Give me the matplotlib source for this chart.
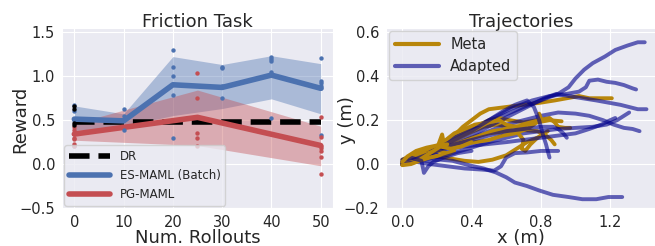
import numpy as np
import seaborn as sns
from matplotlib import pyplot as plt

# ---- left panel: friction task ----
es_x = [0, 10, 20, 30, 40, 50]
es_mean = [0.51, 0.49, 0.90, 0.87, 1.01, 0.86]
es_lo = [0.38, 0.43, 0.55, 0.63, 0.74, 0.57]
es_hi = [0.66, 0.57, 1.22, 1.13, 1.23, 1.14]
es_pts = {
    0: [0.67, 0.60, 0.51, 0.50, 0.21],
    10: [0.62, 0.55, 0.39],
    20: [1.29, 1.10, 1.00, 0.78, 0.30],
    30: [1.10, 1.09, 0.89, 0.75],
    40: [1.22, 1.19, 1.17, 1.04, 1.02, 0.52],
    50: [1.20, 0.94, 0.92, 0.89, 0.86, 0.33],
}

pg_x = [0, 25, 50]
pg_mean = [0.34, 0.53, 0.21]
pg_lo = [0.27, 0.21, -0.02]
pg_hi = [0.46, 0.84, 0.43]
pg_pts = {
    0: [0.42, 0.39, 0.34, 0.30, 0.28, 0.23, 0.21],
    25: [1.03, 0.75, 0.35, 0.30, 0.21],
    50: [0.53, 0.31, 0.21, 0.18, 0.15, 0.08, -0.11],
}

dr_x = [0, 50]
dr_val = 0.48
dr_pts = [0.66, 0.63, 0.47, 0.44]

# ---- right panel: trajectories (x, y in m) ----
meta_trajs = [
    [(0, 0), (0.04, 0.02), (0.1, 0.045), (0.18, 0.07), (0.25, 0.1), (0.3, 0.13), (0.35, 0.17),
     (0.4, 0.2), (0.45, 0.23), (0.5, 0.25), (0.6, 0.26), (0.7, 0.27), (0.8, 0.28), (0.88, 0.29),
     (0.95, 0.3), (1.02, 0.31), (1.08, 0.3), (1.15, 0.3), (1.21, 0.3)],
    [(0, 0.01), (0.1, 0.05), (0.2, 0.08), (0.3, 0.12), (0.4, 0.16), (0.5, 0.2), (0.56, 0.21),
     (0.62, 0.2), (0.7, 0.19), (0.78, 0.2), (0.85, 0.21), (0.88, 0.19), (0.9, 0.17),
     (0.94, 0.165), (0.97, 0.165)],
    [(0, 0), (0.08, 0.03), (0.18, 0.06), (0.28, 0.1), (0.38, 0.14), (0.47, 0.17), (0.55, 0.18),
     (0.62, 0.17), (0.7, 0.175), (0.78, 0.19), (0.85, 0.2), (0.92, 0.195)],
    [(0, 0.005), (0.1, 0.035), (0.2, 0.065), (0.3, 0.09), (0.4, 0.12), (0.5, 0.14), (0.6, 0.15),
     (0.7, 0.155), (0.78, 0.15), (0.83, 0.13), (0.86, 0.11), (0.88, 0.09)],
    [(0, 0), (0.06, 0.02), (0.12, 0.03), (0.2, 0.035), (0.28, 0.025), (0.36, 0.015), (0.44, 0.01),
     (0.52, 0.02), (0.6, 0.04), (0.66, 0.07), (0.72, 0.1), (0.78, 0.12), (0.84, 0.15)],
    [(0, 0), (0.07, 0.03), (0.14, 0.05), (0.2, 0.07), (0.23, 0.135), (0.245, 0.075), (0.3, 0.09),
     (0.38, 0.11), (0.45, 0.13), (0.52, 0.15), (0.6, 0.16), (0.66, 0.15), (0.7, 0.11),
     (0.69, 0.07), (0.71, 0.06), (0.74, 0.09), (0.78, 0.12)],
    [(0, 0.02), (0.08, 0.05), (0.16, 0.07), (0.26, 0.08), (0.34, 0.09), (0.42, 0.1), (0.5, 0.11),
     (0.58, 0.13), (0.65, 0.14), (0.72, 0.16), (0.76, 0.18), (0.8, 0.21), (0.79, 0.23)],
    [(0, 0), (0.06, 0.025), (0.14, 0.06), (0.22, 0.09), (0.3, 0.14), (0.36, 0.16), (0.42, 0.18),
     (0.5, 0.19), (0.56, 0.2), (0.6, 0.18), (0.65, 0.17), (0.72, 0.16)],
    [(0, 0), (0.05, 0.02), (0.1, 0.04), (0.15, 0.05), (0.2, 0.06), (0.26, 0.05), (0.3, 0.06)],
    [(0, 0), (0.04, 0.005), (0.1, 0.02), (0.16, 0.05), (0.22, 0.08), (0.28, 0.07), (0.34, 0.08),
     (0.4, 0.1)],
    [(0, -0.005), (0.05, 0.0), (0.1, 0.015), (0.16, 0.03), (0.22, 0.04), (0.28, 0.05)],
    [(0, 0.01), (0.03, 0.035), (0.08, 0.06), (0.14, 0.075), (0.2, 0.085), (0.26, 0.09)],
]

adapted_trajs = [
    [(0, 0), (0.08, 0.03), (0.2, 0.07), (0.32, 0.12), (0.45, 0.17), (0.58, 0.22), (0.7, 0.26),
     (0.8, 0.29), (0.9, 0.32), (0.96, 0.35), (1.0, 0.39), (1.05, 0.43), (1.1, 0.46), (1.17, 0.49),
     (1.23, 0.52), (1.3, 0.54), (1.36, 0.555), (1.4, 0.555)],
    [(0, 0.01), (0.1, 0.04), (0.22, 0.09), (0.35, 0.14), (0.5, 0.2), (0.62, 0.25), (0.75, 0.29),
     (0.85, 0.31), (0.95, 0.32), (1.02, 0.33), (1.06, 0.35), (1.08, 0.38), (1.13, 0.385),
     (1.18, 0.375), (1.23, 0.37), (1.28, 0.36), (1.33, 0.345), (1.35, 0.34)],
    [(0, 0), (0.12, 0.03), (0.25, 0.07), (0.4, 0.13), (0.52, 0.18), (0.62, 0.22), (0.72, 0.26),
     (0.82, 0.3), (0.89, 0.32), (0.96, 0.31), (1.04, 0.3), (1.12, 0.29), (1.19, 0.28),
     (1.26, 0.27), (1.31, 0.26), (1.36, 0.25), (1.41, 0.25)],
    [(0, 0), (0.1, 0.03), (0.2, 0.06), (0.3, 0.09), (0.4, 0.12), (0.5, 0.15), (0.6, 0.18),
     (0.7, 0.2), (0.8, 0.22), (0.9, 0.235), (1.0, 0.23), (1.08, 0.22), (1.16, 0.2), (1.22, 0.18),
     (1.28, 0.165), (1.33, 0.16), (1.37, 0.15)],
    [(0, 0), (0.12, 0.02), (0.25, 0.04), (0.38, 0.07), (0.5, 0.1), (0.6, 0.12), (0.7, 0.14),
     (0.8, 0.15), (0.9, 0.16), (1.0, 0.165), (1.1, 0.17), (1.18, 0.18), (1.24, 0.2),
     (1.28, 0.22), (1.31, 0.235)],
    [(0, 0.01), (0.1, 0.03), (0.22, 0.06), (0.35, 0.08), (0.48, 0.09), (0.6, 0.1), (0.7, 0.11),
     (0.8, 0.12), (0.9, 0.13), (1.0, 0.14), (1.08, 0.16), (1.15, 0.18), (1.2, 0.2), (1.23, 0.21)],
    [(0, 0), (0.06, 0.02), (0.15, 0.015), (0.22, 0.02), (0.29, 0.015), (0.4, -0.008),
     (0.47, -0.02), (0.54, -0.038), (0.6, -0.06), (0.65, -0.084), (0.72, -0.1), (0.79, -0.12),
     (0.87, -0.14), (0.96, -0.15), (1.04, -0.16), (1.12, -0.16), (1.19, -0.15), (1.27, -0.15)],
    [(0, 0), (0.1, 0.03), (0.2, 0.07), (0.3, 0.11), (0.4, 0.15), (0.5, 0.2), (0.58, 0.24),
     (0.65, 0.27), (0.72, 0.29), (0.76, 0.26), (0.79, 0.2), (0.81, 0.14), (0.83, 0.09),
     (0.85, 0.03)],
    [(0, 0), (0.1, 0.03), (0.2, 0.06), (0.3, 0.09), (0.4, 0.11), (0.5, 0.13), (0.6, 0.15),
     (0.7, 0.16), (0.8, 0.17), (0.87, 0.17), (0.9, 0.16), (0.93, 0.14), (0.95, 0.12)],
    [(0, 0), (0.08, 0.01), (0.16, 0.0), (0.26, -0.01), (0.36, -0.02), (0.46, -0.025),
     (0.53, -0.03), (0.57, -0.01), (0.6, 0.03), (0.65, 0.05), (0.72, 0.053), (0.8, 0.06),
     (0.86, 0.06), (0.9, 0.06)],
    [(0, 0.02), (0.05, 0.03), (0.09, 0.02), (0.11, 0.015), (0.12, -0.02), (0.125, -0.04),
     (0.15, -0.01), (0.18, 0.01), (0.24, 0.03), (0.32, 0.05), (0.4, 0.06)],
]

sns.set_style('darkgrid')
plt.rcParams['font.family'] = ['DejaVu Sans']
plt.rcParams['text.color'] = '#262626'

blue = '#4c72b0'
red = '#c44e52'

fig = plt.figure(figsize=(6.55, 2.46), dpi=100)
ax1 = fig.add_axes([62 / 655, 38 / 246, 271 / 655, 180 / 246])
ax2 = fig.add_axes([386 / 655, 38 / 246, 270 / 655, 180 / 246])

# left
ax1.fill_between(es_x, es_lo, es_hi, color=blue, alpha=0.4, lw=0)
ax1.fill_between(pg_x, pg_lo, pg_hi, color=red, alpha=0.4, lw=0)
ax1.plot(dr_x, [dr_val, dr_val], color='black', ls='--', lw=4, label='DR')
ax1.plot(es_x, es_mean, color=blue, lw=4, label='ES-MAML (Batch)')
ax1.plot(pg_x, pg_mean, color=red, lw=4, label='PG-MAML')
for k, v in es_pts.items():
    ax1.scatter([k] * len(v), v, s=10, color=blue, zorder=3, lw=0)
for k, v in pg_pts.items():
    ax1.scatter([k] * len(v), v, s=10, color=red, zorder=3, lw=0)
ax1.scatter([0] * len(dr_pts), dr_pts, s=10, color='black', zorder=3, lw=0)

ax1.set_xlim(-2.5, 52.5)
ax1.set_ylim(-0.5, 1.545)
ax1.set_xticks([0, 10, 20, 30, 40, 50])
ax1.set_yticks([-0.5, 0.0, 0.5, 1.0, 1.5])
ax1.tick_params(labelsize=10.5, pad=1.5)
ax1.set_title('Friction Task', fontsize=13, pad=1)
ax1.set_xlabel('Num. Rollouts', fontsize=13, va='baseline')
ax1.xaxis.set_label_coords(0.5, -0.197)
ax1.set_ylabel('Reward', fontsize=13, va='center')
ax1.yaxis.set_label_coords(-0.155, 0.49)
ax1.legend(loc='lower left', fontsize=8.5, handlelength=3.5, borderaxespad=0.2)

# right
for i in range(max(len(meta_trajs), len(adapted_trajs))):
    if i < len(meta_trajs):
        m = np.array(meta_trajs[i])
        ax2.plot(m[:, 0], m[:, 1], color='darkgoldenrod', lw=2.8)
    if i < len(adapted_trajs):
        a = np.array(adapted_trajs[i])
        ax2.plot(a[:, 0], a[:, 1], color='darkblue', alpha=0.6, lw=2.8)

ax2.plot([], [], color='darkgoldenrod', lw=3, label='Meta')
ax2.plot([], [], color='darkblue', alpha=0.6, lw=3, label='Adapted')
ax2.set_xlim(-0.094, 1.465)
ax2.set_ylim(-0.2, 0.62)
ax2.set_xticks([0.0, 0.4, 0.8, 1.2])
ax2.set_yticks([-0.2, 0.0, 0.2, 0.4, 0.6])
ax2.tick_params(labelsize=10.5, pad=1.5)
ax2.set_title('Trajectories', fontsize=13, pad=1)
ax2.set_xlabel('x (m)', fontsize=13, va='baseline')
ax2.xaxis.set_label_coords(0.5, -0.192)
ax2.set_ylabel('y (m)', fontsize=13, va='center')
ax2.yaxis.set_label_coords(-0.145, 0.49)
ax2.legend(loc='upper left', fontsize=10.5, handlelength=3, borderaxespad=0.2)

fig.savefig('out.png', dpi=100)
